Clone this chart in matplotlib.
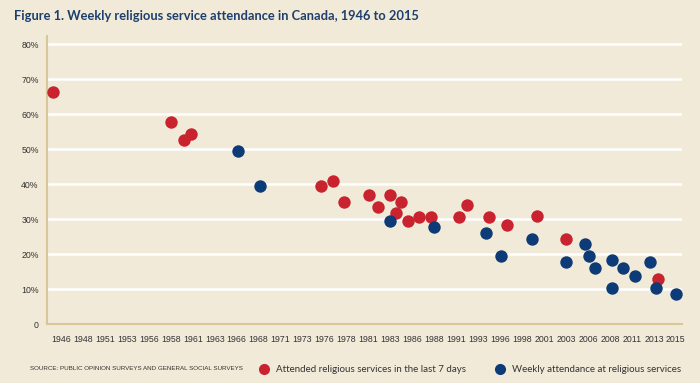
import matplotlib
matplotlib.use("Agg")
import matplotlib.pyplot as plt
import numpy as np

# Data (year, percent)
red_years = [1945.1, 1958.4, 1959.8, 1960.55, 1975.2, 1976.5, 1977.8, 1980.6, 1981.6,
             1982.9, 1984.2, 1983.6, 1984.9, 1986.2, 1987.5, 1990.7, 1991.6, 1994.0,
             1996.1, 1999.4, 2002.7, 2013.0]
red_vals = [66.4, 57.7, 52.6, 54.4, 39.4, 40.8, 35.0, 36.8, 33.3,
            36.8, 35.0, 31.8, 29.4, 30.7, 30.7, 30.7, 34.1, 30.7,
            28.4, 30.9, 24.4, 12.9]
blue_years = [1965.9, 1968.3, 1982.9, 1987.9, 1993.7, 1995.4, 1998.8, 2002.7, 2004.75,
              2005.2, 2005.9, 2007.8, 2007.8, 2009.05, 2010.4, 2012.1, 2012.8, 2015.0]
blue_vals = [49.3, 39.4, 29.3, 27.7, 26.1, 19.4, 24.3, 17.7, 22.8,
             19.4, 16.1, 18.3, 10.4, 16.1, 13.6, 17.7, 10.3, 8.7]

x_labels = ["1946", "1948", "1951", "1953", "1956", "1958", "1961", "1963", "1966", "1968",
            "1971", "1973", "1976", "1978", "1981", "1983", "1986", "1988", "1991", "1993",
            "1996", "1998", "2001", "2003", "2006", "2008", "2011", "2013", "2015"]
y_ticks = [0, 10, 20, 30, 40, 50, 60, 70, 80]
y_labels = ["0", "10%", "20%", "30%", "40%", "50%", "60%", "70%", "80%"]

title = "Figure 1. Weekly religious service attendance in Canada, 1946 to 2015"
source = "SOURCE: PUBLIC OPINION SURVEYS AND GENERAL SOCIAL SURVEYS"
red_label = "Attended religious services in the last 7 days"
blue_label = "Weekly attendance at religious services"

BG = "#F2EAD8"
RED = "#C8232F"
BLUE = "#0C3B78"
NAVY = "#1D3F6E"
TAN = "#D8C796"
TXT = "#333333"
NARROW = ["Liberation Sans Narrow", "Liberation Sans", "DejaVu Sans"]

fig = plt.figure(figsize=(7, 3.83), dpi=100, facecolor=BG)
ax = fig.add_axes([0.0671, 0.154, 0.907, 0.752])
ax.set_facecolor(BG)

ax.scatter(red_years, red_vals, s=80, color=RED, zorder=3, linewidths=0)
ax.scatter(blue_years, blue_vals, s=80, color=BLUE, zorder=3, linewidths=0)

ax.set_xlim(1944.43, 2015.67)
ax.set_ylim(0, 82.3)

xt = np.linspace(1946, 2015, len(x_labels))
ax.set_xticks(xt)
ax.set_xticklabels(x_labels, fontsize=6.3, color=TXT, family=NARROW)
ax.set_yticks(y_ticks)
ax.set_yticklabels(y_labels, fontsize=6.3, color=TXT, family=NARROW)
ax.tick_params(axis="both", length=0)
ax.tick_params(axis="x", pad=8)
ax.tick_params(axis="y", pad=6)

ax.yaxis.grid(True, color="white", linewidth=1.8)
ax.set_axisbelow(True)
for s in ["top", "right"]:
    ax.spines[s].set_visible(False)
for s in ["left", "bottom"]:
    ax.spines[s].set_color(TAN)
    ax.spines[s].set_linewidth(1.5)

fig.text(14/700, 1 - 16/383, title, fontsize=9.3, fontweight="bold", color=NAVY,
         family=["Lato", "DejaVu Sans"], va="center", ha="left")

ly = 1 - 369/383
fig.text(30/700, ly, source, fontsize=4.5, color=TXT, va="center", ha="left",
         family=NARROW)
fig.add_artist(plt.Line2D([264/700], [ly], marker="o", markersize=8, color=RED,
                          markeredgewidth=0, transform=fig.transFigure))
fig.text(276/700, ly, red_label, fontsize=7, color=TXT, va="center", ha="left",
         family=["Lato", "DejaVu Sans"])
fig.add_artist(plt.Line2D([500/700], [ly], marker="o", markersize=8, color=BLUE,
                          markeredgewidth=0, transform=fig.transFigure))
fig.text(512/700, ly, blue_label, fontsize=7, color=TXT, va="center", ha="left",
         family=["Lato", "DejaVu Sans"])

fig.savefig("out.png", dpi=100, facecolor=BG)
